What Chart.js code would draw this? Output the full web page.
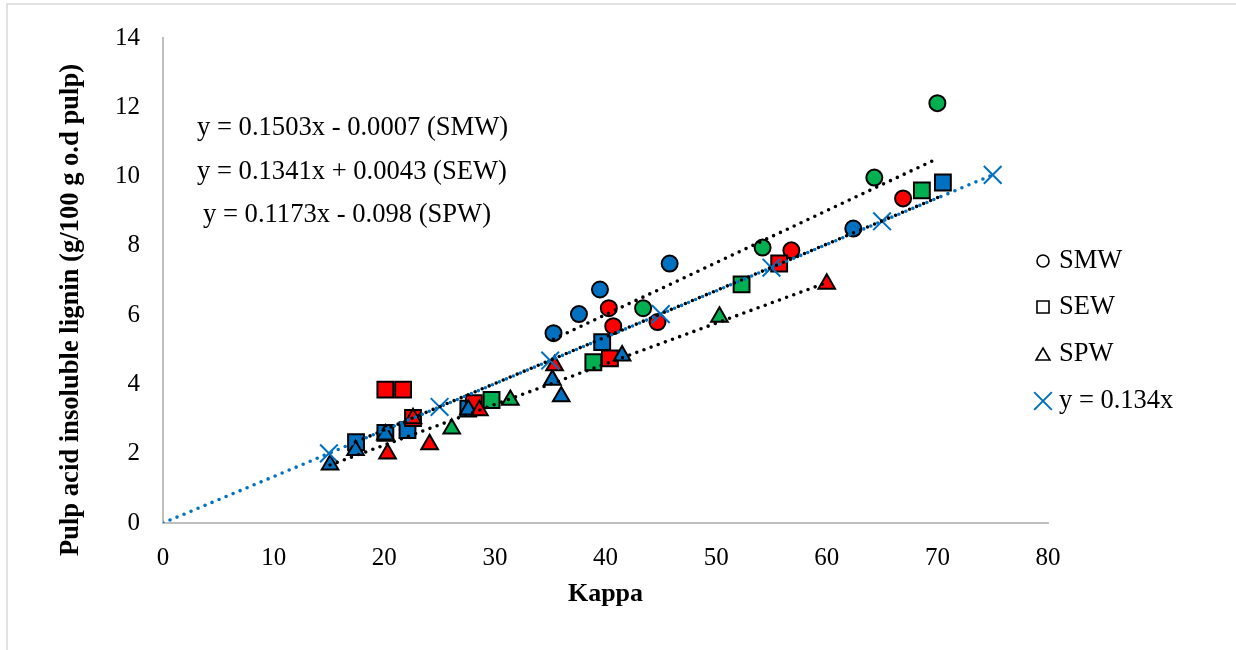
<!DOCTYPE html>
<html>
<head>
<meta charset="utf-8">
<script src="https://cdn.jsdelivr.net/npm/chart.js@4.4.0/dist/chart.umd.min.js"></script>
<style>
html, body { margin: 0; padding: 0; background: #fff; }
#wrap { width: 1236px; height: 650px; position: relative; }
</style>
</head>
<body>
<div id="wrap"><canvas id="lignina" width="1236" height="650"></canvas></div>
<script>
// Colores por especie (azul, rojo, verde)
const colores = { B: '#0070C0', R: '#FF0000', G: '#00B050' };

// SMW (círculos)
const smwKappa  = [35.3, 37.6, 39.5, 45.8, 40.3, 40.7, 43.4, 44.7, 54.2, 56.8, 62.4, 64.3, 66.9, 70.0];
const smwLignina = [5.48, 6.03, 6.74, 7.49, 6.20, 5.68, 6.20, 5.80, 7.95, 7.87, 8.50, 9.97, 9.37, 12.12];
const smwColor  = ['B', 'B', 'B', 'B', 'R', 'R', 'G', 'R', 'G', 'R', 'B', 'G', 'R', 'G'];

// SEW (cuadrados)
const sewKappa  = [17.45, 20.1, 22.1, 20.1, 21.7, 22.6, 27.6, 28.1, 29.7, 38.9, 40.4, 39.7, 52.3, 55.7, 68.6, 70.5];
const sewLignina = [2.33, 2.60, 2.68, 3.85, 3.85, 3.03, 3.30, 3.46, 3.55, 4.64, 4.75, 5.22, 6.89, 7.49, 9.60, 9.83];
const sewColor  = ['B', 'B', 'B', 'R', 'R', 'R', 'B', 'R', 'G', 'G', 'R', 'B', 'G', 'R', 'G', 'B'];

// SPW (triángulos)
const spwKappa  = [15.1, 17.4, 20.1, 20.3, 22.6, 24.1, 26.1, 27.6, 28.6, 31.4, 35.2, 35.4, 36.0, 41.5, 50.3, 60.0];
const spwLignina = [1.68, 2.10, 2.55, 2.00, 3.02, 2.27, 2.72, 3.27, 3.25, 3.55, 4.13, 4.55, 3.65, 4.83, 5.95, 6.90];
const spwColor  = ['B', 'B', 'B', 'R', 'R', 'R', 'G', 'B', 'R', 'G', 'B', 'R', 'B', 'B', 'G', 'R'];

// Recta de referencia y = 0.134x
const refKappa   = [15, 25, 35, 45, 55, 65, 75];
const refLignina = [2.01, 3.35, 4.69, 6.03, 7.37, 8.71, 10.05];

// Líneas de tendencia (SMW, SEW, SPW)
const tendPendiente = [0.1503, 0.1341, 0.1173];
const tendIntercepto = [-0.0007, 0.0043, -0.098];
const tendEtiquetas = [
    'y = 0.1503x - 0.0007 (SMW)',
    'y = 0.1341x + 0.0043 (SEW)',
    'y = 0.1173x - 0.098 (SPW)'
];

const xTicks = [0, 10, 20, 30, 40, 50, 60, 70, 80];
const yTicks = [0, 2, 4, 6, 8, 10, 12, 14];

const FUENTE = "'Liberation Serif', 'Times New Roman', serif";

function puntos(xs, ys) {
    return xs.map((x, i) => ({ x: x, y: ys[i] }));
}

function tendencia(xs, k) {
    const x0 = Math.min(...xs), x1 = Math.max(...xs);
    return [
        { x: x0, y: tendPendiente[k] * x0 + tendIntercepto[k] },
        { x: x1, y: tendPendiente[k] * x1 + tendIntercepto[k] }
    ];
}

function serieMarcas(label, xs, ys, cods, estilo, radio, orden) {
    return {
        label: label,
        data: puntos(xs, ys),
        pointStyle: estilo,
        pointRadius: radio,
        pointHoverRadius: radio,
        backgroundColor: cods.map(c => colores[c]),
        borderColor: '#000',
        borderWidth: 2,
        showLine: false,
        order: orden
    };
}

function serieTendencia(data, color, orden) {
    return {
        label: '',
        data: data,
        showLine: true,
        pointRadius: 0,
        borderColor: color,
        borderWidth: 3.6,
        borderDash: [0, 7.6],
        borderCapStyle: 'round',
        fill: false,
        order: orden
    };
}

// Ejes: títulos, ecuaciones y leyenda dibujados a mano
const extras = {
    id: 'extras',
    beforeDraw(chart) {
        const ctx = chart.ctx;
        ctx.save();
        ctx.strokeStyle = '#d9d9d9';
        ctx.lineWidth = 1.5;
        ctx.strokeRect(7, 4, 1260, 680);
        ctx.restore();
    },
    afterDraw(chart) {
        const ctx = chart.ctx;
        ctx.save();
        ctx.fillStyle = '#000';

        // título eje Y
        ctx.save();
        ctx.translate(71, 310);
        ctx.rotate(-Math.PI / 2);
        ctx.textAlign = 'center';
        ctx.textBaseline = 'middle';
        ctx.font = 'bold 26.6px ' + FUENTE;
        ctx.fillText('Pulp acid insoluble lignin (g/100 g o.d pulp)', 0, 0);
        ctx.restore();

        // ecuaciones
        ctx.font = '26.6px ' + FUENTE;
        ctx.textAlign = 'left';
        ctx.textBaseline = 'middle';
        const eqPos = [[197, 128], [197, 172], [203, 215]];
        tendEtiquetas.forEach((t, i) => ctx.fillText(t, eqPos[i][0], eqPos[i][1]));

        // leyenda
        const leyenda = [
            { texto: 'SMW', estilo: 'circle', r: 6, color: '#000' },
            { texto: 'SEW', estilo: 'rect', r: 8.5, color: '#000' },
            { texto: 'SPW', estilo: 'triangle', r: 8, color: '#000' },
            { texto: 'y = 0.134x', estilo: 'crossRot', r: 12.5, color: '#0070C0' }
        ];
        const ly = [261, 307, 354, 401];
        ctx.font = '26.5px ' + FUENTE;
        leyenda.forEach((it, i) => {
            ctx.save();
            ctx.strokeStyle = it.color;
            ctx.fillStyle = '#fff';
            ctx.lineWidth = it.estilo === 'crossRot' ? 2 : 1.6;
            Chart.helpers.drawPoint(ctx, { pointStyle: it.estilo, radius: it.r, rotation: 0, borderWidth: ctx.lineWidth }, 1043, it.estilo === 'triangle' ? ly[i] + 2 : ly[i]);
            ctx.restore();
            ctx.fillStyle = '#000';
            ctx.fillText(it.texto, 1059, ly[i]);
        });
        ctx.restore();
    }
};

const ctx = document.getElementById('lignina').getContext('2d');

new Chart(ctx, {
    type: 'scatter',
    data: {
        datasets: [
            serieTendencia([{ x: 0, y: 0 }].concat(puntos(refKappa, refLignina)), '#0070C0', 0),
            serieTendencia(tendencia(smwKappa, 0), '#000', 1),
            serieTendencia(tendencia(sewKappa, 1), '#000', 1),
            serieTendencia(tendencia(spwKappa, 2), '#000', 1),
            {
                label: 'y = 0.134x',
                data: puntos(refKappa, refLignina),
                pointStyle: 'crossRot',
                pointRadius: 12.5,
                pointHoverRadius: 12.5,
                borderColor: '#0070C0',
                borderWidth: 2,
                showLine: false,
                order: 2
            },
            serieMarcas('SPW', spwKappa, spwLignina, spwColor, 'triangle', 9.6, 3),
            serieMarcas('SEW', sewKappa, sewLignina, sewColor, 'rect', 11.2, 4),
            serieMarcas('SMW', smwKappa, smwLignina, smwColor, 'circle', 8, 5)
        ]
    },
    options: {
        responsive: false,
        animation: false,
        layout: { padding: { left: 0, top: 37, right: 188, bottom: 0 } },
        plugins: {
            legend: { display: false },
            tooltip: { enabled: false }
        },
        scales: {
            x: {
                type: 'linear',
                min: 0,
                max: 80,
                afterBuildTicks: s => { s.ticks = xTicks.map(v => ({ value: v })); },
                afterFit: s => { s.height = 127; },
                grid: { display: false, drawTicks: false },
                border: { display: true, color: '#bfbfbf', width: 2 },
                ticks: { color: '#000', padding: 20, font: { family: FUENTE, size: 25 } },
                title: {
                    display: true,
                    text: 'Kappa',
                    color: '#000',
                    font: { family: FUENTE, size: 26, weight: 'bold' },
                    padding: { top: 0, bottom: 40 }
                }
            },
            y: {
                type: 'linear',
                min: 0,
                max: 14,
                afterBuildTicks: s => { s.ticks = yTicks.map(v => ({ value: v })); },
                afterFit: s => { s.width = 163; },
                grid: { display: false, drawTicks: false },
                border: { display: true, color: '#bfbfbf', width: 2 },
                ticks: { color: '#000', padding: 23, font: { family: FUENTE, size: 25 } }
            }
        }
    },
    plugins: [extras]
});
</script>
</body>
</html>
